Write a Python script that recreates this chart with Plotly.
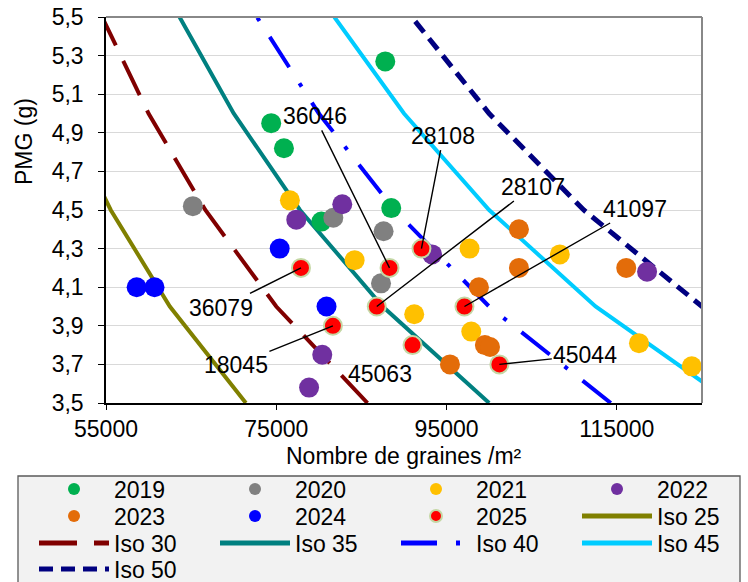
import plotly.graph_objects as go

# ---------------- data ----------------
years = ["2019", "2020", "2021", "2022", "2023", "2024", "2025"]

n2019 = [87800, 74400, 75900, 88500, 80300]
p2019 = [5.27, 4.95, 4.82, 4.51, 4.44]

n2020 = [65200, 81700, 87600, 87300]
p2020 = [4.52, 4.46, 4.39, 4.12]

n2021 = [76600, 84200, 97700, 91200, 97900, 108300, 117600, 123800]
p2021 = [4.55, 4.24, 4.30, 3.96, 3.87, 4.27, 3.81, 3.69]

n2022 = [82750, 77350, 93300, 80400, 78850, 118550]
p2022 = [4.53, 4.45, 4.27, 3.75, 3.58, 4.18]

n2023 = [103500, 103500, 98800, 99500, 100100, 95400, 116100]
p2023 = [4.40, 4.20, 4.10, 3.80, 3.79, 3.70, 4.20]

n2024 = [58600, 60700, 75400, 80900]
p2024 = [4.10, 4.10, 4.30, 4.00]

n2025 = [77900, 81650, 88300, 92050, 86800, 97100, 101200, 91000]
p2025 = [4.20, 3.90, 4.20, 4.30, 4.00, 4.00, 3.70, 3.80]
lab2025 = ["36079", "18045", "36046", "28108", "28107", "41097", "45044", "45063"]

iso_names = ["Iso 25", "Iso 30", "Iso 35", "Iso 40", "Iso 45", "Iso 50"]
iso_pmg = [3.5, 4.0, 4.5, 5.0, 5.5]
iso25_n = [71429, 62500, 55556, 50000, 45455]
iso30_n = [85714, 75000, 66667, 60000, 54545]
iso35_n = [100000, 87500, 77778, 70000, 63636]
iso40_n = [114286, 100000, 88889, 80000, 72727]
iso45_n = [128571, 112500, 100000, 90000, 81818]
iso50_n = [142857, 125000, 111111, 100000, 90909]

x_ticks = [55000, 75000, 95000, 115000]
y_ticks = [3.5, 3.7, 3.9, 4.1, 4.3, 4.5, 4.7, 4.9, 5.1, 5.3, 5.5]
y_ticktext = ["3,5", "3,7", "3,9", "4,1", "4,3", "4,5", "4,7", "4,9", "5,1", "5,3", "5,5"]

# ---------------- styles ----------------
FONT = "Liberation Sans, Arial, sans-serif"
FS = 23
W, H = 748, 582
PL, PR, PT, PB = 106, 46, 17, 179          # plot area margins (px)
PW, PH = W - PL - PR, H - PT - PB


def px_to_paper_x(px):
    return (px - PL) / PW


def px_to_paper_y(py):
    return (H - PB - py) / PH


year_colors = ["#00B050", "#808080", "#FFC000", "#7030A0", "#E36C09", "#0000FF", "#FF0000"]
iso_styles = [
    dict(color="#808000", dash="solid", width=4),
    dict(color="#800000", dash="38px,17px", width=4),
    dict(color="#008080", dash="solid", width=4),
    dict(color="#0000FF", dash="36px,19px,4px,19px", width=4),
    dict(color="#00CCFF", dash="solid", width=4),
    dict(color="#000080", dash="14px,8px", width=5),
]

# legend layout: entries in reading order, 4 columns, each row split into two legends
legend_order = years + iso_names
legend_ids = ["legend", "legend2", "legend3", "legend4", "legend5", "legend6", "legend7"]


def legend_for(name):
    k = legend_order.index(name)
    row, col = divmod(k, 4)
    return legend_ids[row * 2 + (col // 2)]


fig = go.Figure()

iso_ns = [iso25_n, iso30_n, iso35_n, iso40_n, iso45_n, iso50_n]
for i, (name, ns) in enumerate(zip(iso_names, iso_ns)):
    fig.add_trace(go.Scatter(
        x=ns, y=iso_pmg, mode="lines", name=name,
        line=iso_styles[i], legend=legend_for(name),
        legendrank=legend_order.index(name) + 1,
    ))

year_data = [(n2019, p2019), (n2020, p2020), (n2021, p2021), (n2022, p2022),
             (n2023, p2023), (n2024, p2024), (n2025, p2025)]
for i, (yr, (ns, ps)) in enumerate(zip(years, year_data)):
    if yr == "2025":
        marker = dict(size=18, color=year_colors[i], line=dict(color="#C4D7A4", width=2))
    else:
        marker = dict(size=20, color=year_colors[i], line=dict(width=0))
    fig.add_trace(go.Scatter(
        x=ns, y=ps, mode="markers", name=yr, marker=marker,
        legend=legend_for(yr), legendrank=i + 1, cliponaxis=False,
    ))

# data labels for 2025 (offsets in pixels)
label_offsets = {
    "36079": (-80, 40), "18045": (-97, 39), "36046": (-75, -152),
    "28108": (22, -113), "28107": (156, -120), "41097": (171, -98),
    "45044": (86, -9),
}
for n, p, lab in zip(n2025, p2025, lab2025):
    if lab in label_offsets:
        ax, ay = label_offsets[lab]
        fig.add_annotation(x=n, y=p, text=lab, showarrow=True, arrowhead=0,
                           arrowwidth=1.4, arrowcolor="black", standoff=0,
                           ax=ax, ay=ay, font=dict(family=FONT, size=FS, color="black"))
    else:
        fig.add_annotation(x=n, y=p, text=lab, showarrow=False,
                           xshift=-33, yshift=-29,
                           font=dict(family=FONT, size=FS, color="black"))

# axis titles as annotations
fig.add_annotation(xref="paper", yref="paper", x=0.5, y=px_to_paper_y(456),
                   text="Nombre de graines /m²",
                   showarrow=False, font=dict(family=FONT, size=FS, color="black"),
                   xanchor="center", yanchor="middle")
fig.add_annotation(xref="paper", yref="paper", x=px_to_paper_x(24), y=px_to_paper_y(142),
                   text="PMG (g)",
                   showarrow=False, textangle=-90, font=dict(family=FONT, size=FS, color="black"),
                   xanchor="center", yanchor="middle")

# gray top/right frame
fig.add_shape(type="line", xref="paper", yref="paper", x0=0, x1=1, y0=1, y1=1,
              line=dict(color="#888888", width=2))
fig.add_shape(type="line", xref="paper", yref="paper", x0=1, x1=1, y0=0, y1=1,
              line=dict(color="#888888", width=2))

# legend background box
fig.add_shape(type="rect", xref="paper", yref="paper", layer="below",
              x0=px_to_paper_x(18), x1=px_to_paper_x(740),
              y0=px_to_paper_y(476), y1=px_to_paper_y(600),
              fillcolor="#F2F2F2", line=dict(color="#595959", width=1.3))

row_centers = [489, 516, 543, 569]
col_left = 34
half_width = 362
legend_layouts = {}
for idx, lid in enumerate(legend_ids):
    row, half = divmod(idx, 2)
    legend_layouts[lid] = dict(
        orientation="h", x=px_to_paper_x(col_left + half * half_width),
        y=px_to_paper_y(row_centers[row]),
        xanchor="left", yanchor="middle",
        bgcolor="rgba(0,0,0,0)", borderwidth=0,
        font=dict(family=FONT, size=FS, color="black"),
        itemsizing="constant", itemwidth=70,
        entrywidth=96, entrywidthmode="pixels",
        traceorder="normal",
    )

fig.update_layout(
    width=W, height=H,
    margin=dict(l=PL, r=PR, t=PT, b=PB, autoexpand=False),
    paper_bgcolor="white", plot_bgcolor="white",
    font=dict(family=FONT, size=FS, color="black"),
    showlegend=True,
    xaxis=dict(
        range=[55000, 125000], tickvals=x_ticks, ticktext=[str(v) for v in x_ticks],
        showgrid=False, zeroline=False,
        showline=True, linecolor="black", linewidth=1.5,
        ticks="outside", ticklen=5, tickcolor="black", tickwidth=1,
        tickfont=dict(family=FONT, size=FS, color="black"),
    ),
    yaxis=dict(
        range=[3.5, 5.5], tickvals=y_ticks, ticktext=y_ticktext,
        showgrid=True, gridcolor="#D9D9D9", gridwidth=1.3, zeroline=False,
        showline=True, linecolor="black", linewidth=1.5,
        ticks="outside", ticklen=6, tickcolor="black", tickwidth=1,
        tickfont=dict(family=FONT, size=FS, color="black"),
        ticklabelstandoff=10,
    ),
    **legend_layouts,
)

fig.write_html("out.html", config={"displayModeBar": False},
               post_script="document.body.style.margin='0';")
